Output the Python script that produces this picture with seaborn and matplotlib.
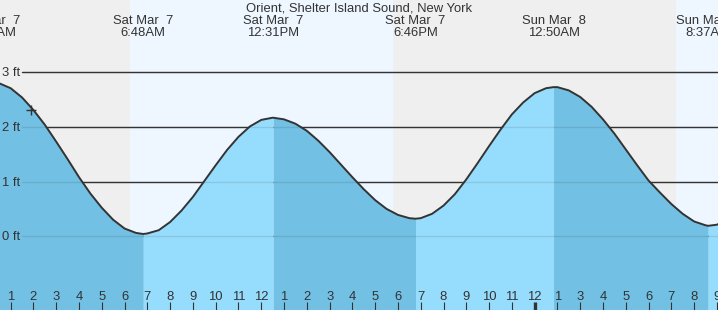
import numpy as np
import pandas as pd
import matplotlib
matplotlib.use("Agg")
import matplotlib.pyplot as plt
import seaborn as sns
from matplotlib.transforms import blended_transform_factory, ScaledTranslation

# ---------------- data ----------------
title = "Orient, Shelter Island Sound, New York"

# hours since Sat Mar 7 00:00 (standard time), half-hour grid, tide height in ft
curve_hours = list(np.arange(0.0, 33.0, 0.5))
curve_feet = [2.83, 2.80, 2.71, 2.54, 2.31, 2.04, 1.73, 1.41, 1.08, 0.78,
              0.52, 0.30, 0.14, 0.06, 0.05, 0.11, 0.26, 0.47, 0.72, 1.01,
              1.30, 1.58, 1.82, 2.01, 2.13, 2.17, 2.14, 2.06, 1.93, 1.75,
              1.54, 1.31, 1.08, 0.86, 0.66, 0.50, 0.39, 0.33, 0.33, 0.41,
              0.56, 0.77, 1.04, 1.34, 1.65, 1.95, 2.23, 2.45, 2.62, 2.71,
              2.73, 2.67, 2.55, 2.37, 2.14, 1.88, 1.59, 1.30, 1.02, 0.80,
              0.59, 0.41, 0.27, 0.20, 0.21, 0.31]

extreme_hours = [0.09, 6.82, 12.52, 18.77, 24.83, 31.62]
extreme_feet = [2.83, 0.04, 2.17, 0.32, 2.73, 0.19]
extreme_days = ["Sat Mar  7", "Sat Mar  7", "Sat Mar  7", "Sat Mar  7", "Sun Mar  8", "Sun Mar  8"]
extreme_times = ["12:05AM", "6:48AM", "12:31PM", "6:46PM", "12:50AM", "8:37AM"]

daylight_start = [6.24, 30.20]
daylight_end = [17.78, 34.00]

hour_ticks = list(range(1, 33))
hour_labels = ["1", "2", "3", "4", "5", "6", "7", "8", "9", "10", "11", "12",
               "1", "2", "3", "4", "5", "6", "7", "8", "9", "10", "11", "12",
               "1", "3", "4", "5", "6", "7", "8", "9"]
midnight_hour = 24

level_ticks = [0, 1, 2, 3]
level_labels = ["0 ft", "1 ft", "2 ft", "3 ft"]

now_hour = 1.89
now_feet = 2.31

# ---------------- style ----------------
sns.set_style("white")
plt.rcParams["font.family"] = ["Liberation Sans", "DejaVu Sans"]

NIGHT = "#efefef"
DAY = "#eef7ff"
RISE = "#96dcfc"
FALL = "#72c0e4"
INK = "#333333"
FS = 9.4

W, H = 718, 310
fig = plt.figure(figsize=(W / 100, H / 100), dpi=100)
ax = fig.add_axes([0, 0, 1, 1])
ax.set_facecolor(NIGHT)
for s in ax.spines.values():
    s.set_visible(False)

x_lo, x_hi = 0.530, 32.05
y_lo, y_hi = -1.352, 4.326
ax.set_xlim(x_lo, x_hi)
ax.set_ylim(y_lo, y_hi)

# day shading
for a, b in zip(daylight_start, daylight_end):
    ax.axvspan(a, b, color=DAY, lw=0, zorder=0)

# level lines (sky)
line_start = 22 / W
for lv in level_ticks:
    ax.axhline(lv, xmin=line_start, xmax=1, color=INK, lw=1.0, zorder=1)

# tide curve data
df = pd.DataFrame({"hour": curve_hours + extreme_hours,
                   "feet": curve_feet + extreme_feet})
df = df.sort_values("hour").reset_index(drop=True)

bounds = [df.hour.min()] + extreme_hours + [df.hour.max()]
for a, b in zip(bounds[:-1], bounds[1:]):
    seg = df[(df.hour >= a) & (df.hour <= b)]
    if len(seg) < 2:
        continue
    rising = seg.feet.iloc[-1] > seg.feet.iloc[0]
    ax.fill_between(seg.hour, y_lo, seg.feet, color=RISE if rising else FALL,
                    lw=0, zorder=2)

# level lines under water (subtle)
for lv in level_ticks:
    ax.axhline(lv, xmin=line_start, xmax=1, color=INK, lw=1.0, alpha=0.13, zorder=3)

sns.lineplot(data=df, x="hour", y="feet", color=INK, lw=1.4, ax=ax, zorder=5,
             sort=True, estimator=None, solid_joinstyle="round",
             solid_capstyle="round")
ax.plot([now_hour], [now_feet], marker="+", ms=7, mew=1.0, color=INK, zorder=6)

# level labels
off = ScaledTranslation(0, -4 / 100, fig.dpi_scale_trans)
lab_tr = blended_transform_factory(ax.transAxes, ax.transData) + off
for lv, lab in zip(level_ticks, level_labels):
    ax.text(20.5 / W, lv, lab, transform=lab_tr, ha="right", va="baseline",
            fontsize=FS, color=INK, zorder=7)

# title and extreme labels
top_tr = blended_transform_factory(ax.transData, ax.transAxes)
fig.text(359.5 / W, 1 - 11.8 / H, title, ha="center", va="baseline",
         fontsize=FS, color=INK)
for hx, d, t in zip(extreme_hours, extreme_days, extreme_times):
    ax.text(hx, 1 - 24.3 / H, d, transform=top_tr, ha="center", va="baseline",
            fontsize=FS, color=INK, zorder=7)
    ax.text(hx, 1 - 36.5 / H, t, transform=top_tr, ha="center", va="baseline",
            fontsize=FS, color=INK, zorder=7)

# hour ticks
ax.set_xticks(hour_ticks)
ax.set_xticklabels(hour_labels)
ax.set_yticks([])
ax.set_xlabel("")
ax.set_ylabel("")
ax.tick_params(axis="x", bottom=True, direction="in", length=5.8, width=0.8,
               color=INK, labelcolor=INK, labelsize=FS, pad=-14.0)
for tk, hv in zip(ax.xaxis.get_major_ticks(), hour_ticks):
    tk.tick1line.set_zorder(8)
    tk.label1.set_zorder(8)
    if hv == midnight_hour:
        tk.tick1line.set_markeredgewidth(2.4)
ax.set_axisbelow(False)

fig.savefig("out.png", dpi=100)
